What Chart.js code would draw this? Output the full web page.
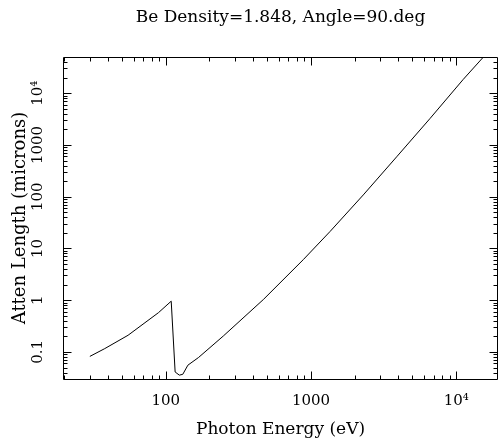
<!DOCTYPE html>
<html>
<head>
<meta charset="utf-8">
<script src="https://cdn.jsdelivr.net/npm/chart.js@4.4.0/dist/chart.umd.min.js"></script>
<style>
  html, body { margin: 0; padding: 0; background: #fff; }
  #wrap { width: 499px; height: 440px; }
</style>
</head>
<body>
<div id="wrap"><canvas id="chartAtten" width="499" height="440"></canvas></div>
<script>
/* =========================
   DATA
========================= */
const energyEV = [30, 38, 55, 89, 109, 116, 124, 131, 142, 168, 249, 470, 885, 1352, 2291, 3890, 6590, 11170, 15200];
const attenMicrons = [0.082, 0.116, 0.21, 0.573, 0.957, 0.041, 0.0356, 0.037, 0.0555, 0.078, 0.203, 1.03, 6.07, 21.2, 108, 589, 3220, 18400, 48000];

const xRange = [19.6, 19400];
const yRange = [0.03, 50000];
const xTicks = [100, 1000, 10000];
const xTickLabels = ["100", "1000", "10⁴"];
const yTicks = [0.1, 1, 10, 100, 1000, 10000];
const yTickLabels = ["0.1", "1", "10", "100", "1000", "10⁴"];

const FONT = "DejaVu Serif";

/* =========================
   TICK MARKS (inside, all 4 sides)
========================= */
const logTicks = {
  id: "logTicks",
  afterDraw(chart) {
    const { ctx, chartArea: a, scales } = chart;
    const x0 = Math.round(a.left) + 0.5;
    const x1 = Math.round(a.right) - 0.5;
    const y0 = Math.round(a.top) + 0.5;
    const y1 = Math.round(a.bottom) + 0.5;

    ctx.save();
    ctx.strokeStyle = "#000";
    ctx.lineWidth = 1;
    ctx.beginPath();
    ctx.rect(x0, y0, x1 - x0, y1 - y0);

    // x axis ticks (bottom + top)
    const xs = scales.x;
    for (let d = Math.floor(Math.log10(xs.min)); d <= Math.ceil(Math.log10(xs.max)); d++) {
      for (let k = 1; k <= 9; k++) {
        const v = k * Math.pow(10, d);
        if (v <= xs.min || v >= xs.max) continue;
        const px = Math.round(xs.getPixelForValue(v)) + 0.5;
        const len = k === 1 ? 8 : 4;
        ctx.moveTo(px, y1); ctx.lineTo(px, y1 - len);
        ctx.moveTo(px, y0); ctx.lineTo(px, y0 + len);
      }
    }

    // y axis ticks (left + right)
    const ys = scales.y;
    for (let d = Math.floor(Math.log10(ys.min)); d <= Math.ceil(Math.log10(ys.max)); d++) {
      for (let k = 1; k <= 9; k++) {
        const v = k * Math.pow(10, d);
        if (v <= ys.min || v >= ys.max) continue;
        const py = Math.round(ys.getPixelForValue(v)) + 0.5;
        const len = k === 1 ? 8 : 4;
        ctx.moveTo(x0, py); ctx.lineTo(x0 + len, py);
        ctx.moveTo(x1, py); ctx.lineTo(x1 - len, py);
      }
    }
    ctx.stroke();
    ctx.restore();
  }
};

/* =========================
   CHART
========================= */
const ctx = document.getElementById("chartAtten");

new Chart(ctx, {
  type: "line",
  data: {
    datasets: [{
      data: energyEV.map((e, i) => ({ x: e, y: attenMicrons[i] })),
      borderColor: "#000",
      borderWidth: 1,
      pointRadius: 0,
      tension: 0,
      fill: false
    }]
  },
  options: {
    responsive: false,
    animation: false,
    layout: { padding: { left: 0, right: 1, top: 0, bottom: 0 } },
    plugins: {
      legend: { display: false },
      tooltip: { enabled: false },
      title: {
        display: true,
        fullSize: false,
        text: "Be Density=1.848, Angle=90.deg",
        color: "#000",
        font: { family: FONT, size: 17, weight: "normal" },
        padding: { top: 7, bottom: 29.6 }
      }
    },
    scales: {
      x: {
        type: "logarithmic",
        min: xRange[0],
        max: xRange[1],
        afterBuildTicks: s => { s.ticks = xTicks.map(v => ({ value: v })); },
        afterFit: s => { s.height = 61; },
        grid: { display: false },
        border: { display: false },
        ticks: {
          autoSkip: false,
          minRotation: 0,
          maxRotation: 0,
          padding: 5,
          color: "#000",
          font: { family: FONT, size: 15 },
          callback: v => xTickLabels[xTicks.indexOf(v)]
        },
        title: {
          display: true,
          text: "Photon Energy (eV)",
          color: "#000",
          font: { family: FONT, size: 17 },
          padding: { top: 0, bottom: 0 }
        }
      },
      y: {
        type: "logarithmic",
        min: yRange[0],
        max: yRange[1],
        afterBuildTicks: s => { s.ticks = yTicks.map(v => ({ value: v })); },
        afterFit: s => { s.width = 63; },
        grid: { display: false },
        border: { display: false },
        ticks: {
          autoSkip: false,
          minRotation: 90,
          maxRotation: 90,
          crossAlign: "center",
          padding: -2,
          color: "#000",
          font: { family: FONT, size: 15 },
          callback: v => yTickLabels[yTicks.indexOf(v)]
        },
        title: {
          display: true,
          text: "Atten Length (microns)",
          color: "#000",
          font: { family: FONT, size: 18 },
          padding: { top: 10, bottom: 0 }
        }
      }
    }
  },
  plugins: [logTicks]
});
</script>
</body>
</html>
